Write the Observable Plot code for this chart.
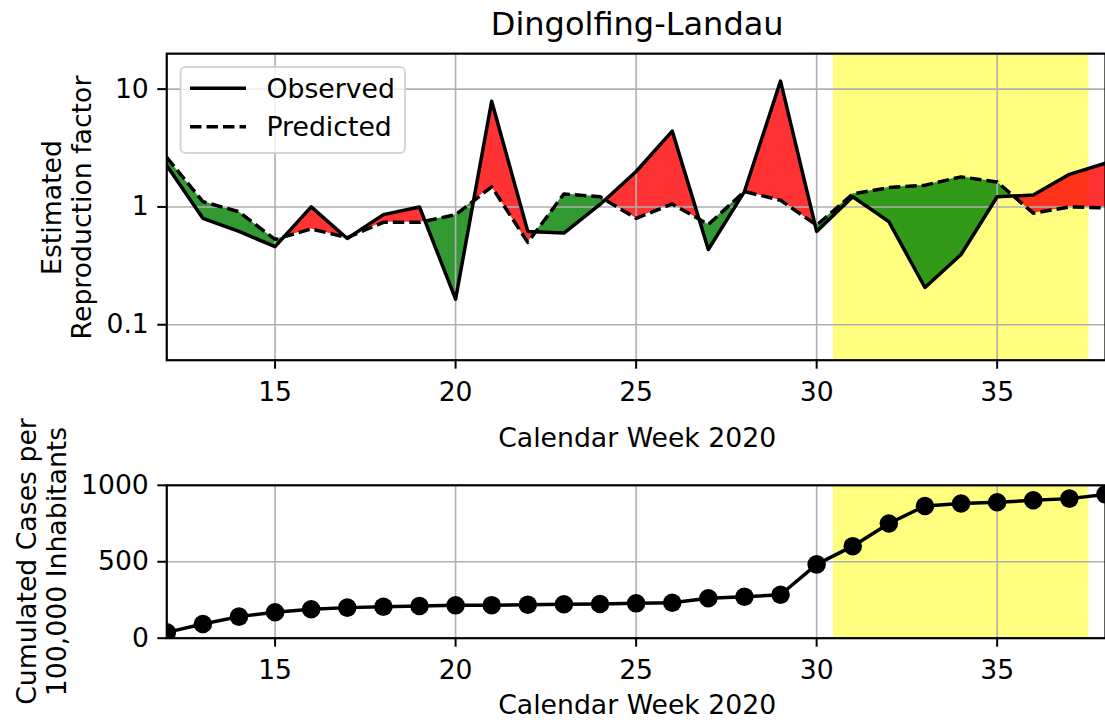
<!DOCTYPE html>
<html>
<head>
<meta charset="utf-8">
<script src="https://cdn.jsdelivr.net/npm/d3@7"></script>
<script src="https://cdn.jsdelivr.net/npm/@observablehq/plot@0.6"></script>
<style>
  html, body { margin: 0; padding: 0; overflow: hidden; background: #fff; }
  #fig { position: relative; width: 1105px; height: 722px; overflow: hidden;
         font-family: "DejaVu Sans", sans-serif; color: #000; }
  #fig > svg { position: absolute; left: 0; }
  .lbl { position: absolute; white-space: nowrap; font-size: 26.7px; line-height: 1; }
  .title { font-size: 32px; }
  .ylbl { position: absolute; width: 400px; height: 59px; text-align: center;
          font-size: 26.7px; line-height: 29.5px; white-space: pre; transform: rotate(-90deg); }
</style>
</head>
<body>
<div id="fig"></div>
<script>
// Calendar weeks shown in both panels
const weeks = [12, 13, 14, 15, 16, 17, 18, 19, 20, 21, 22, 23, 24, 25, 26, 27, 28, 29, 30, 31, 32, 33, 34, 35, 36, 37, 38];

// Estimated reproduction factor per week
const observed  = [2.25, 0.80, 0.62, 0.46, 1.00, 0.54, 0.86, 1.00, 0.165, 7.9, 0.62, 0.60, 1.05, 2.0, 4.4, 0.435, 1.35, 11.7, 0.62, 1.22, 0.75, 0.207, 0.395, 1.22, 1.26, 1.89, 2.35];
const predicted = [2.63, 1.11, 0.91, 0.53, 0.65, 0.55, 0.74, 0.74, 0.86, 1.48, 0.50, 1.29, 1.22, 0.80, 1.06, 0.71, 1.35, 1.14, 0.70, 1.29, 1.46, 1.53, 1.80, 1.63, 0.885, 1.00, 0.98];

// Cumulated cases per 100,000 inhabitants
const cumulated = [38, 93, 141, 170, 189, 200, 206, 211, 215, 216, 219, 222, 224, 228, 232, 261, 271, 284, 483, 602, 750, 865, 881, 889, 902, 913, 941];

// Highlighted period (calendar weeks)
const highlight = [30.5, 37.5];

// Axis ticks
const weekTicks = [15, 20, 25, 30, 35];
const rTicks = [0.1, 1, 10];
const caseTicks = [0, 500, 1000];

const xDomain = [12, 38];
const rDomain = [0.05, 20];
const caseDomain = [0, 1000];

const FONT = "DejaVu Sans";
const FS = "26.7px";
const GRID = "#b0b0b0";
const LW = 3.5;
const DASH = "11.5,5";

const rows = weeks.map((w, i) => ({week: w, obs: observed[i], pred: predicted[i], cases: cumulated[i]}));

// Split the band between observed and predicted into runs of constant sign,
// inserting the crossing point (in log space) where the two lines intersect.
function fillRuns(data) {
  const out = [];
  let run = 0, cur = null;
  const push = (x, o, p, s) => out.push({run, week: x, obs: o, pred: p, sign: s});
  for (let i = 0; i < data.length; i++) {
    const r = data[i];
    const d2 = Math.log(r.obs) - Math.log(r.pred);
    const s = Math.sign(d2);
    if (i === 0) { cur = s || 1; push(r.week, r.obs, r.pred, cur); continue; }
    const p = data[i - 1];
    const d1 = Math.log(p.obs) - Math.log(p.pred);
    if (s !== 0 && s !== cur) {
      if (d1 !== 0) {
        const t = d1 / (d1 - d2);
        const x = p.week + t * (r.week - p.week);
        const v = Math.exp(Math.log(p.obs) + t * (Math.log(r.obs) - Math.log(p.obs)));
        push(x, v, v, cur);
        run++; cur = s;
        push(x, v, v, cur);
      } else {
        run++; cur = s;
        push(p.week, p.obs, p.pred, cur);
      }
    }
    push(r.week, r.obs, r.pred, cur);
  }
  return out;
}
const bands = fillRuns(rows);
const span = [{x1: highlight[0], x2: highlight[1]}];

const common = {
  width: 1108,
  marginLeft: 166.7,
  marginRight: 0,
  style: {fontFamily: FONT, fontSize: FS, color: "#000", background: "transparent", overflow: "visible"}
};

// Highlight span with a slight outward edge, like a filled patch with an outline
const spanMark = () => Plot.rect(span, {x1: "x1", x2: "x2", fill: "yellow", fillOpacity: 0.5,
  insetLeft: -1.4, insetRight: -1.4});

// Upper panel: reproduction factor (log scale)
const rChart = Plot.plot({
  ...common,
  height: 415.7,
  marginTop: 53.3,
  marginBottom: 55,
  x: {domain: xDomain},
  y: {type: "log", domain: rDomain},
  color: {type: "identity"},
  marks: [
    spanMark(),
    Plot.areaY(bands, {x: "week", y1: "pred", y2: "obs", z: "run",
      fill: d => d.sign > 0 ? "red" : "#008000", fillOpacity: 0.8, clip: true}),
    Plot.gridX(weekTicks, {stroke: GRID, strokeOpacity: 1, strokeWidth: 1.6}),
    Plot.gridY(rTicks, {stroke: GRID, strokeOpacity: 1, strokeWidth: 1.6}),
    Plot.line(rows, {x: "week", y: "pred", stroke: "black", strokeWidth: LW,
      strokeDasharray: DASH, strokeLinecap: "butt", clip: true}),
    Plot.line(rows, {x: "week", y: "obs", stroke: "black", strokeWidth: LW, clip: true}),
    Plot.frame({stroke: "black", strokeWidth: 2.2}),
    Plot.axisX(weekTicks, {anchor: "bottom", tickSize: 9, tickPadding: 13, strokeWidth: 2, label: null}),
    Plot.axisY(rTicks, {anchor: "left", tickSize: 9, tickPadding: 9, strokeWidth: 2, label: null,
      tickFormat: d => String(d)})
  ]
});
rChart.style.top = "0px";

// Lower panel: cumulated cases
const casesChart = Plot.plot({
  ...common,
  height: 278.3,
  marginTop: 65,
  marginBottom: 60,
  x: {domain: xDomain},
  y: {domain: caseDomain},
  marks: [
    spanMark(),
    Plot.gridX(weekTicks, {stroke: GRID, strokeOpacity: 1, strokeWidth: 1.6}),
    Plot.gridY(caseTicks, {stroke: GRID, strokeOpacity: 1, strokeWidth: 1.6}),
    Plot.line(rows, {x: "week", y: "cases", stroke: "black", strokeWidth: LW, clip: true}),
    Plot.dot(rows, {x: "week", y: "cases", r: 9.3, fill: "black", stroke: "none", clip: true}),
    Plot.frame({stroke: "black", strokeWidth: 2.2}),
    Plot.axisX(weekTicks, {anchor: "bottom", tickSize: 9, tickPadding: 13, strokeWidth: 2, label: null}),
    Plot.axisY(caseTicks, {anchor: "left", tickSize: 9, tickPadding: 9, strokeWidth: 2, label: null,
      tickFormat: d => String(d)})
  ]
});
casesChart.style.top = "420px";

const fig = document.getElementById("fig");
fig.appendChild(rChart);
fig.appendChild(casesChart);

function label(text, cls, cx, baseline, fs) {
  const el = document.createElement("div");
  el.className = cls;
  el.textContent = text;
  el.style.left = cx + "px";
  el.style.top = (baseline - 0.846 * fs) + "px";
  el.style.transform = "translateX(-50%)";
  fig.appendChild(el);
}
label("Dingolfing-Landau", "lbl title", 637.2, 35, 32);
label("Calendar Week 2020", "lbl", 637.2, 447.3, 26.7);
label("Calendar Week 2020", "lbl", 637.2, 714.3, 26.7);

function yLabel(text, cx, cy) {
  const el = document.createElement("div");
  el.className = "ylbl";
  el.textContent = text;
  el.style.left = (cx - 200) + "px";
  el.style.top = (cy - 29.5) + "px";
  fig.appendChild(el);
}
yLabel("Estimated\nReproduction factor", 65.5, 207);
yLabel("Cumulated Cases per\n100,000 Inhabitants", 41.3, 561.5);

// Legend for the upper panel
const ns = "http://www.w3.org/2000/svg";
const leg = document.createElementNS(ns, "svg");
leg.setAttribute("width", 240);
leg.setAttribute("height", 100);
leg.style.left = "172px";
leg.style.top = "60px";
leg.style.fontFamily = FONT;
leg.style.fontSize = FS;
const ox = 172, oy = 60;
const mk = (tag, attrs) => {
  const e = document.createElementNS(ns, tag);
  for (const k in attrs) e.setAttribute(k, attrs[k]);
  leg.appendChild(e);
  return e;
};
mk("rect", {x: 180.5 - ox, y: 67 - oy, width: 224.5, height: 86, rx: 5, ry: 5,
  fill: "rgba(255,255,255,0.8)", stroke: "rgba(204,204,204,0.8)", "stroke-width": 2});
const legendItems = [
  {name: "Observed", dash: null, y: 88.3},
  {name: "Predicted", dash: DASH, y: 126.7}
];
for (const it of legendItems) {
  const ln = mk("line", {x1: 190 - ox, x2: 246 - ox, y1: it.y - oy, y2: it.y - oy,
    stroke: "black", "stroke-width": LW});
  if (it.dash) ln.setAttribute("stroke-dasharray", it.dash);
  const t = mk("text", {x: 266.5 - ox, y: it.y + 9.7 - oy, fill: "black"});
  t.textContent = it.name;
}
fig.appendChild(leg);
</script>
</body>
</html>
